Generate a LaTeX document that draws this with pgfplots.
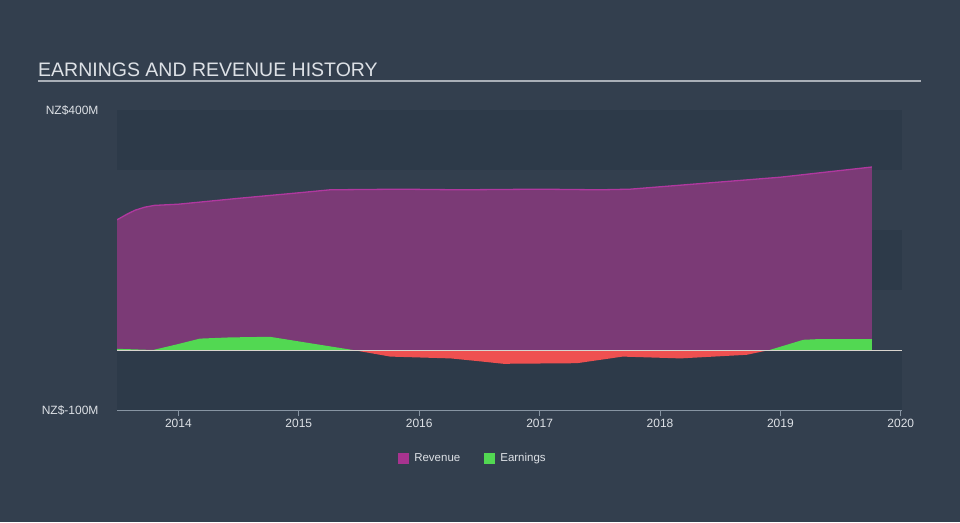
\documentclass[border=0pt]{standalone}
\usepackage{pgfplots}
\pgfplotsset{compat=1.18}
\usepackage{fontspec}
\setmainfont{Liberation Sans}
\definecolor{bg}{HTML}{333F4E}
\definecolor{band}{HTML}{2D3A49}
\definecolor{revfill}{HTML}{7B3A76}
\definecolor{revline}{HTML}{B0389F}
\definecolor{revleg}{HTML}{A8338F}
\definecolor{earn}{HTML}{52D852}
\definecolor{loss}{HTML}{EF5050}
\definecolor{axisgray}{HTML}{8794A2}
\definecolor{zeroc}{HTML}{D8D4CE}
\definecolor{txt}{HTML}{DDE1E6}
\definecolor{titleline}{HTML}{A9AFB7}
\begin{document}
\begin{tikzpicture}[x=1pt,y=1pt]
\fill[bg] (0,0) rectangle (960,522);
\node[anchor=base west, inner sep=0, text=txt, font=\fontsize{19.5}{20}\selectfont] at (38,445) {EARNINGS AND REVENUE HISTORY};
\draw[titleline, line width=1.5pt] (38,441) -- (921,441);
\begin{axis}[
  at={(117pt,112pt)}, anchor=south west,
  scale only axis, width=785pt, height=300pt,
  xmin=2013.49, xmax=2020.01, ymin=-100, ymax=400,
  axis x line*=bottom, axis y line*=left,
  x axis line style={axisgray, line width=1pt, -},
  y axis line style={draw=none},
  xtick={2014,2015,2016,2017,2018,2019,2020},
  xticklabels={2014,2015,2016,2017,2018,2019,2020},
  ytick={-100,400},
  yticklabels={NZ\$-100M,NZ\$400M},
  tick align=outside, major tick length=6pt,
  xtick style={axisgray, line width=1pt},
  ytick style={draw=none},
  ticklabel style={text=txt, font=\fontsize{12}{12}\selectfont},
  yticklabel style={xshift=-9pt},
  /pgf/number format/assume math mode=true,
  legend style={at={(0.4535,-0.16)}, anchor=center, draw=none, fill=none,
    legend columns=2, text=txt, font=\fontsize{11.5}{11.5}\selectfont,
    /tikz/every even column/.append style={column sep=22pt}},
]
% background bands
\fill[band] (axis cs:2013.49,300) rectangle (axis cs:2020.01,400);
\fill[band] (axis cs:2013.49,100) rectangle (axis cs:2020.01,200);
\fill[band] (axis cs:2013.49,-100) rectangle (axis cs:2020.01,0);
% revenue area
\addplot[fill=revfill, draw=none, forget plot] table {
2013.49 0
2013.49 217
2013.57 226
2013.64 233
2013.72 238
2013.80 241
2014.00 243
2014.51 253
2015.00 262
2015.26 267
2015.84 268
2016.34 267
2017.00 268
2017.50 267
2017.75 268
2018.00 272
2018.50 280
2019.00 288
2019.76 305
2019.76 0
};
\addplot[revline, line width=1.3pt, forget plot] table {
2013.49 217
2013.57 226
2013.64 233
2013.72 238
2013.80 241
2014.00 243
2014.51 253
2015.00 262
2015.26 267
2015.84 268
2016.34 267
2017.00 268
2017.50 267
2017.75 268
2018.00 272
2018.50 280
2019.00 288
2019.76 305
};
% earnings positive
\addplot[fill=earn, draw=none, forget plot] table {
2013.49 0
2013.49 2
2013.79 0
2014.00 10
2014.18 19
2014.43 21
2014.76 22
2015.01 14
2015.45 0
};
\addplot[fill=earn, draw=none, forget plot] table {
2018.91 0
2019.19 17
2019.30 18
2019.76 18
2019.76 0
};
% earnings negative
\addplot[fill=loss, draw=none, forget plot] table {
2015.45 0
2015.76 -11
2016.26 -14
2016.51 -19
2016.70 -23
2017.31 -22
2017.69 -11
2018.17 -14
2018.72 -8
2018.91 0
};
% zero line
\addplot[zeroc, line width=1pt, forget plot] coordinates {(2013.49,0) (2020.01,0)};
\addlegendimage{legend image code/.code={\fill[revleg, draw=none] (0pt,-5.5pt) rectangle (11pt,5.5pt); \path[draw=none, fill=none] (0pt,0pt) -- (14pt,0pt);}}
\addlegendentry{Revenue}
\addlegendimage{legend image code/.code={\fill[earn, draw=none] (0pt,-5.5pt) rectangle (11pt,5.5pt); \path[draw=none, fill=none] (0pt,0pt) -- (14pt,0pt);}}
\addlegendentry{Earnings}
\end{axis}
\pgfresetboundingbox
\path (0,0) rectangle (960,522);
\end{tikzpicture}
\end{document}
